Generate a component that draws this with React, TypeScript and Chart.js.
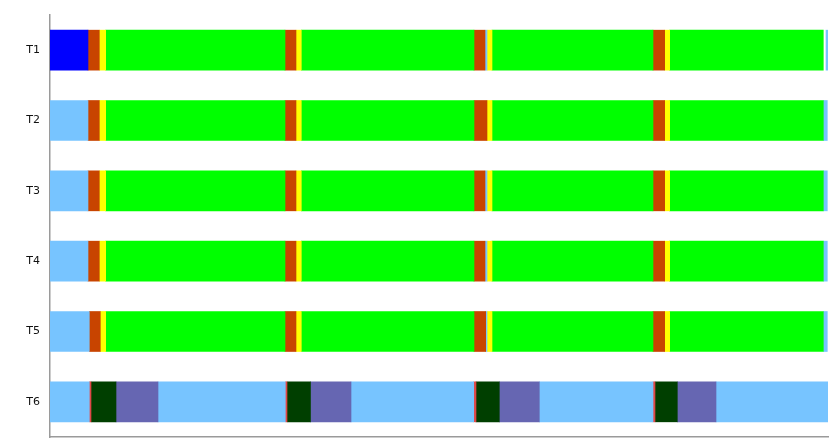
import React, { useEffect, useRef } from "react";
import { Chart, registerables } from "chart.js";

Chart.register(...registerables);

type Seg = [string, number, number];

const categories: string[] = ["T1", "T2", "T3", "T4", "T5", "T6"];

const stateColors: Record<string, string> = {
  start: "#0000FF",
  idle: "#77C4FF",
  lock: "#C84400",
  wait: "#FFFF00",
  run: "#00FF00",
  signal: "#E04848",
  io: "#003F00",
  sleep: "#6666B2",
};

const timeMax = 778;

const rowT1: Seg[] = [
  ["start", 0, 38], ["lock", 38, 49.3], ["wait", 49.3, 55.7], ["run", 55.7, 235],
  ["lock", 235, 246], ["wait", 246, 251.3], ["run", 251.3, 424],
  ["lock", 424, 435], ["idle", 435, 437], ["wait", 437, 442], ["run", 442, 603],
  ["lock", 603, 614.7], ["wait", 614.7, 619.7], ["run", 619.7, 773.3], ["idle", 776, 777.7],
];
const rowT2: Seg[] = [
  ["idle", 0, 38], ["lock", 38, 49.3], ["wait", 49.3, 55.7], ["run", 55.7, 235],
  ["lock", 235, 246], ["wait", 246, 251.3], ["run", 251.3, 424],
  ["lock", 424, 437], ["wait", 437, 442], ["run", 442, 603],
  ["lock", 603, 614.7], ["wait", 614.7, 619.7], ["run", 619.7, 773.3], ["idle", 773.3, 777.3],
];
const rowT3: Seg[] = [
  ["idle", 0, 38], ["lock", 38, 49.3], ["wait", 49.3, 55.7], ["run", 55.7, 235],
  ["lock", 235, 246], ["wait", 246, 251.3], ["run", 251.3, 424],
  ["lock", 424, 435], ["idle", 435, 437], ["wait", 437, 442], ["run", 442, 603],
  ["lock", 603, 614.7], ["wait", 614.7, 619.7], ["run", 619.7, 773.3], ["idle", 773.3, 777.3],
];
const rowT4: Seg[] = [
  ["idle", 0, 38], ["lock", 38, 49.3], ["wait", 49.3, 55.7], ["run", 55.7, 235],
  ["lock", 235, 246], ["wait", 246, 251.3], ["run", 251.3, 424],
  ["lock", 424, 435], ["idle", 435, 437], ["wait", 437, 442], ["run", 442, 603],
  ["lock", 603, 614.7], ["wait", 614.7, 619.7], ["run", 619.7, 773.3], ["idle", 773.3, 777.3],
];
const rowT5: Seg[] = [
  ["idle", 0, 39.3], ["lock", 39.3, 50.3], ["wait", 50.3, 55.7], ["run", 55.7, 235],
  ["lock", 235, 246], ["wait", 246, 251.3], ["run", 251.3, 424],
  ["lock", 424, 435.7], ["idle", 435.7, 437], ["wait", 437, 442], ["run", 442, 603],
  ["lock", 603, 614.7], ["wait", 614.7, 619.7], ["run", 619.7, 773.3], ["idle", 773.3, 777.3],
];
const rowT6: Seg[] = [
  ["idle", 0, 39.3], ["signal", 39.3, 41], ["io", 41, 66], ["sleep", 66, 108],
  ["idle", 108, 235.3], ["signal", 235.3, 237], ["io", 237, 260.5], ["sleep", 260.5, 301],
  ["idle", 301, 423.7], ["signal", 423.7, 426], ["io", 426, 449.3], ["sleep", 449.3, 489.3],
  ["idle", 489.3, 603], ["signal", 603, 605], ["io", 605, 627.3], ["sleep", 627.3, 666],
  ["idle", 666, 778],
];

const rows: Seg[][] = [rowT1, rowT2, rowT3, rowT4, rowT5, rowT6];

export default function App() {
  const ref = useRef<HTMLCanvasElement | null>(null);

  useEffect(() => {
    if (!ref.current) return;
    const maxSegs = Math.max(...rows.map((r) => r.length));
    const datasets: any[] = [];
    for (let k = 0; k < maxSegs; k++) {
      datasets.push({
        label: "seg" + k,
        data: rows.map((r) => (r[k] ? [r[k][1], r[k][2]] : null)),
        backgroundColor: rows.map((r) => (r[k] ? stateColors[r[k][0]] : "transparent")),
        borderWidth: 0,
        borderSkipped: false,
        grouped: false,
        barThickness: 40,
      });
    }
    const chart = new Chart(ref.current, {
      type: "bar",
      data: { labels: categories, datasets },
      options: {
        indexAxis: "y",
        animation: false,
        responsive: true,
        maintainAspectRatio: false,
        layout: { padding: { top: 15, right: 2, left: 0, bottom: 0 } },
        plugins: { legend: { display: false }, tooltip: { enabled: false } },
        scales: {
          x: {
            type: "linear",
            min: 0,
            max: timeMax,
            ticks: { display: false },
            grid: { display: false, drawTicks: false },
            border: { display: true, color: "#9a9a9a", width: 1.5 },
            afterFit: (s: any) => {
              s.height = 11;
            },
          },
          y: {
            type: "category",
            ticks: {
              padding: 0,
              color: "#111",
              font: { family: "DejaVu Sans", size: 11 },
            },
            grid: { display: false, drawTicks: true, tickLength: 10 },
            border: { display: true, color: "#9a9a9a", width: 1.5 },
            afterFit: (s: any) => {
              s.width = 50;
            },
          },
        },
      },
    });
    return () => chart.destroy();
  }, []);

  return (
    <div style={{ position: "fixed", left: 0, top: 0, width: 830, height: 448, background: "#fff" }}>
      <canvas ref={ref} />
    </div>
  );
}
